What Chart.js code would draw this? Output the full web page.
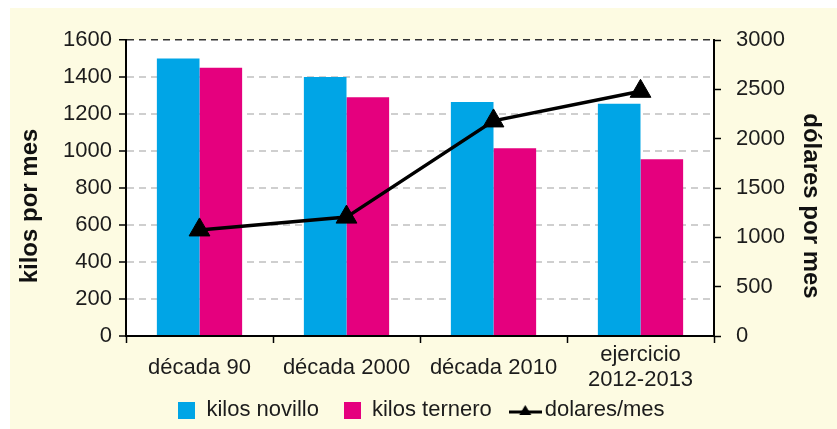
<!DOCTYPE html>
<html>
<head>
<meta charset="utf-8">
<script src="https://cdn.jsdelivr.net/npm/chart.js@4.4.1/dist/chart.umd.min.js"></script>
<style>
  html, body { margin: 0; padding: 0; background: #fff; }
  #wrap { width: 837px; height: 429px; }
</style>
</head>
<body>
<div id="wrap"><canvas id="chart" width="837" height="429"></canvas></div>
<script>
// ===============================================
// DATA
// ===============================================
const categories = ['década 90', 'década 2000', 'década 2010', ['ejercicio', '2012-2013']];
const kilosNovillo = [1500, 1400, 1265, 1255];
const kilosTernero = [1450, 1290, 1015, 955];
const dolaresMes = [1075, 1205, 2180, 2480];

const kilosTicks = [0, 200, 400, 600, 800, 1000, 1200, 1400, 1600];
const dolaresTicks = [0, 500, 1000, 1500, 2000, 2500, 3000];

// ===============================================
// STYLE
// ===============================================
const FONT = "'Liberation Sans', Arial, sans-serif";
const TEXT = '#1c1c1c';
const BLUE = '#00a5e6';
const PINK = '#e5007e';
const PANEL = '#fdfbe2';

function makeSquare(color) {
    const c = document.createElement('canvas');
    c.width = 17; c.height = 17;
    const g = c.getContext('2d');
    g.fillStyle = color;
    g.fillRect(0, 0, 17, 17);
    return c;
}

function makeLineIcon() {
    const c = document.createElement('canvas');
    c.width = 33; c.height = 14;
    const g = c.getContext('2d');
    g.strokeStyle = '#000';
    g.lineWidth = 3;
    g.beginPath();
    g.moveTo(0, 9); g.lineTo(33, 9);
    g.stroke();
    g.fillStyle = '#000';
    g.beginPath();
    g.moveTo(16.5, 2); g.lineTo(22.5, 12); g.lineTo(10.5, 12);
    g.closePath();
    g.fill();
    return c;
}

const legendIcons = [makeSquare(BLUE), makeSquare(PINK), makeLineIcon()];

// panel background + white plot area
const backgroundPlugin = {
    id: 'panelBackground',
    beforeDraw(chart) {
        const { ctx, chartArea } = chart;
        ctx.save();
        ctx.fillStyle = '#fff';
        ctx.fillRect(0, 0, chart.width, chart.height);
        ctx.fillStyle = PANEL;
        ctx.fillRect(10, 8, chart.width - 10, chart.height - 8);
        ctx.fillStyle = '#fff';
        ctx.fillRect(chartArea.left, chartArea.top, chartArea.right - chartArea.left, chartArea.bottom - chartArea.top);
        ctx.restore();
    }
};

// axis titles, drawn a bit below the plot centre like the original
const axisTitlePlugin = {
    id: 'axisTitles',
    afterDraw(chart) {
        const { ctx, chartArea } = chart;
        const cy = (chartArea.top + chartArea.bottom) / 2 + 18;
        ctx.save();
        ctx.fillStyle = '#111';
        ctx.font = "bold 24px " + FONT;
        ctx.textAlign = 'center';
        ctx.textBaseline = 'middle';

        ctx.save();
        ctx.translate(30, cy);
        ctx.rotate(-Math.PI / 2);
        ctx.fillText('kilos por mes', 0, 0);
        ctx.restore();

        ctx.save();
        ctx.translate(811, cy);
        ctx.rotate(Math.PI / 2);
        ctx.fillText('dólares por mes', 0, 0);
        ctx.restore();

        ctx.restore();
    }
};

const plain = v => String(v);

const ctx = document.getElementById('chart');

const chart = new Chart(ctx, {
    type: 'bar',
    data: {
        labels: categories,
        datasets: [
            {
                label: 'kilos novillo',
                data: kilosNovillo,
                backgroundColor: BLUE,
                yAxisID: 'y',
                barPercentage: 1,
                categoryPercentage: 0.58,
                order: 1
            },
            {
                label: 'kilos ternero',
                data: kilosTernero,
                backgroundColor: PINK,
                yAxisID: 'y',
                barPercentage: 1,
                categoryPercentage: 0.58,
                order: 1
            },
            {
                type: 'line',
                label: 'dolares/mes',
                data: dolaresMes,
                yAxisID: 'y2',
                borderColor: '#000',
                backgroundColor: '#000',
                borderWidth: 3.5,
                tension: 0,
                pointStyle: 'triangle',
                pointRadius: 12,
                pointBackgroundColor: '#000',
                pointBorderColor: '#000',
                pointBorderWidth: 1,
                fill: false,
                order: -1
            }
        ]
    },
    options: {
        responsive: false,
        animation: false,
        layout: { padding: { top: 40, left: 6, right: 0, bottom: -2 } },
        plugins: {
            tooltip: { enabled: false },
            legend: {
                display: true,
                position: 'bottom',
                labels: {
                    usePointStyle: true,
                    pointStyleWidth: 17,
                    boxHeight: 17,
                    padding: 25,
                    color: TEXT,
                    font: { family: FONT, size: 22 },
                    sort: (a, b) => a.datasetIndex - b.datasetIndex,
                    generateLabels(chart) {
                        const items = Chart.defaults.plugins.legend.labels.generateLabels(chart);
                        items.forEach(it => { it.pointStyle = legendIcons[it.datasetIndex]; });
                        return items;
                    }
                }
            }
        },
        scales: {
            x: {
                offset: true,
                grid: {
                    offset: true,
                    drawOnChartArea: false,
                    tickLength: 7,
                    tickColor: '#000',
                    tickWidth: 1.5
                },
                border: { color: '#000', width: 2 },
                ticks: {
                    color: TEXT,
                    padding: 12,
                    crossAlign: 'center',
                    maxRotation: 0,
                    font: { family: FONT, size: 22, lineHeight: 1.15 }
                },
                afterFit(scale) {
                    const lg = scale.chart.legend ? scale.chart.legend.height : 58;
                    scale.height = 429 + 2 - 336 - lg;
                    // the two-line label runs past the box, keep it unclipped
                    scale._computeLabelArea = () => null;
                }
            },
            y: {
                position: 'left',
                min: 0,
                max: 1600,
                afterBuildTicks(scale) {
                    scale.ticks = kilosTicks.map(v => ({ value: v }));
                },
                grid: {
                    color: c => {
                        if (!c.tick) return '#cfcfcf';
                        if (c.tick.value === 1600) return '#333';
                        if (c.tick.value === 0) return 'rgba(0,0,0,0)';
                        return '#cfcfcf';
                    },
                    lineWidth: c => (c.tick && c.tick.value === 1600 ? 1.5 : 2),
                    tickLength: 7,
                    tickColor: '#000',
                    tickWidth: 1.5
                },
                border: { color: '#000', width: 2, dash: [7, 5] },
                ticks: {
                    color: TEXT,
                    padding: 7,
                    callback: plain,
                    font: { family: FONT, size: 22 }
                },
                afterFit(scale) { scale.width = 120; }
            },
            y2: {
                position: 'right',
                min: 0,
                max: 3000,
                afterBuildTicks(scale) {
                    scale.ticks = dolaresTicks.map(v => ({ value: v }));
                },
                grid: {
                    drawOnChartArea: false,
                    tickLength: 7,
                    tickColor: '#000',
                    tickWidth: 1.5
                },
                border: { color: '#000', width: 2 },
                ticks: {
                    color: TEXT,
                    padding: 15,
                    callback: plain,
                    font: { family: FONT, size: 22 }
                },
                afterFit(scale) { scale.width = 123; }
            }
        }
    },
    plugins: [backgroundPlugin, axisTitlePlugin]
});
</script>
</body>
</html>
